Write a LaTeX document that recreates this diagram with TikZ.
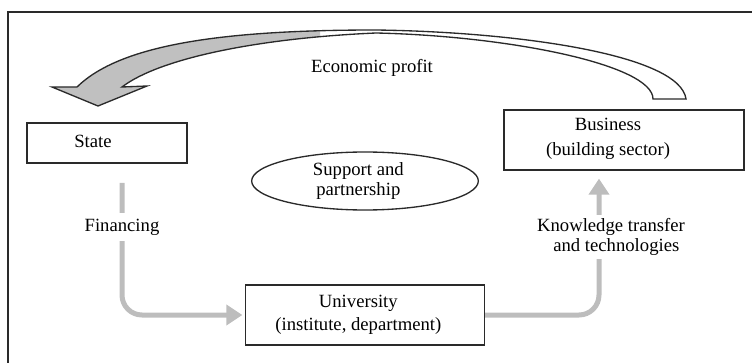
\documentclass[tikz,border=0pt]{standalone}
\usepackage{fontspec}
\setmainfont{Liberation Serif}
\usetikzlibrary{arrows.meta,shapes.geometric}
\definecolor{frameclr}{HTML}{2A2A2A}
\definecolor{flowgray}{HTML}{BDBDBD}
\definecolor{headgray}{HTML}{C0C0C0}
\begin{document}
\begin{tikzpicture}[x=0.75pt,y=-0.75pt,
  txt/.style={font=\fontsize{14}{16.5}\selectfont, align=center, inner sep=0pt},
  box/.style={draw=frameclr, line width=1pt, inner sep=0pt},
  flow/.style={draw=flowgray, line width=3.75pt, rounded corners=15pt, -{Triangle[length=12pt,width=15pt]}},
  lbl/.style={txt, fill=white, inner xsep=2pt}]
\useasboundingbox (0,0) rectangle (752,363);
\draw[frameclr, line width=1.1pt] (8,363) -- (8,12) -- (752,12);

% boxes
\node[box, minimum width=120pt, minimum height=30pt,
      label={[txt, xshift=-10.5pt, yshift=1.5pt]center:State}] (state) at (107,143) {};
\node[box, minimum width=180pt, minimum height=45pt,
      label={[txt, font=\fontsize{14}{18.5}\selectfont, xshift=-12pt, yshift=1pt]center:{Business\\(building sector)}}] (biz) at (624,140) {};
\node[box, minimum width=179pt, minimum height=45pt,
      label={[txt, font=\fontsize{14}{17}\selectfont, xshift=-5pt]center:{University\\(institute, department)}}] (univ) at (365,315) {};
\node[draw=frameclr, ellipse, line width=1pt, minimum width=170pt, minimum height=43.5pt,
      inner sep=0pt, txt, font=\fontsize{14}{15}\selectfont] (supp) at (365,181) {\hspace*{-10pt}Support and\\\hspace*{-10pt}partnership};

% flows
\coordinate (finstart) at (122,183);
\draw[flow, shorten >=2pt] (finstart) |- (univ.west);
\node[lbl, inner ysep=4pt] (fin) at (122,227) {Financing};
\draw[flow, shorten >=6pt] (univ.east) -| ([xshift=-18.75pt]biz.south);
\node[lbl, inner ysep=2.5pt, font=\fontsize{14}{15.5}\selectfont] (know) at (611,237) {Knowledge transfer\\\hspace*{8pt}and technologies};

% economic profit arrow
\def\profitpath{(52,87) -- (98,106) -- (147,86) -- (122,87)
  .. controls (160,58) and (260,38) .. (376,33)
  .. controls (510,36) and (653,65) .. (653,99) -- (686,99)
  .. controls (680,55) and (520,32) .. (376,30)
  .. controls (220,30) and (120,45) .. (77,87) -- cycle}
\begin{scope}
  \clip (0,0) rectangle (320,363);
  \fill[headgray] \profitpath;
\end{scope}
\draw[frameclr, line width=1pt, line join=miter] \profitpath;
\node[txt] (profit) at (372,68) {Economic profit};
\end{tikzpicture}
\end{document}
